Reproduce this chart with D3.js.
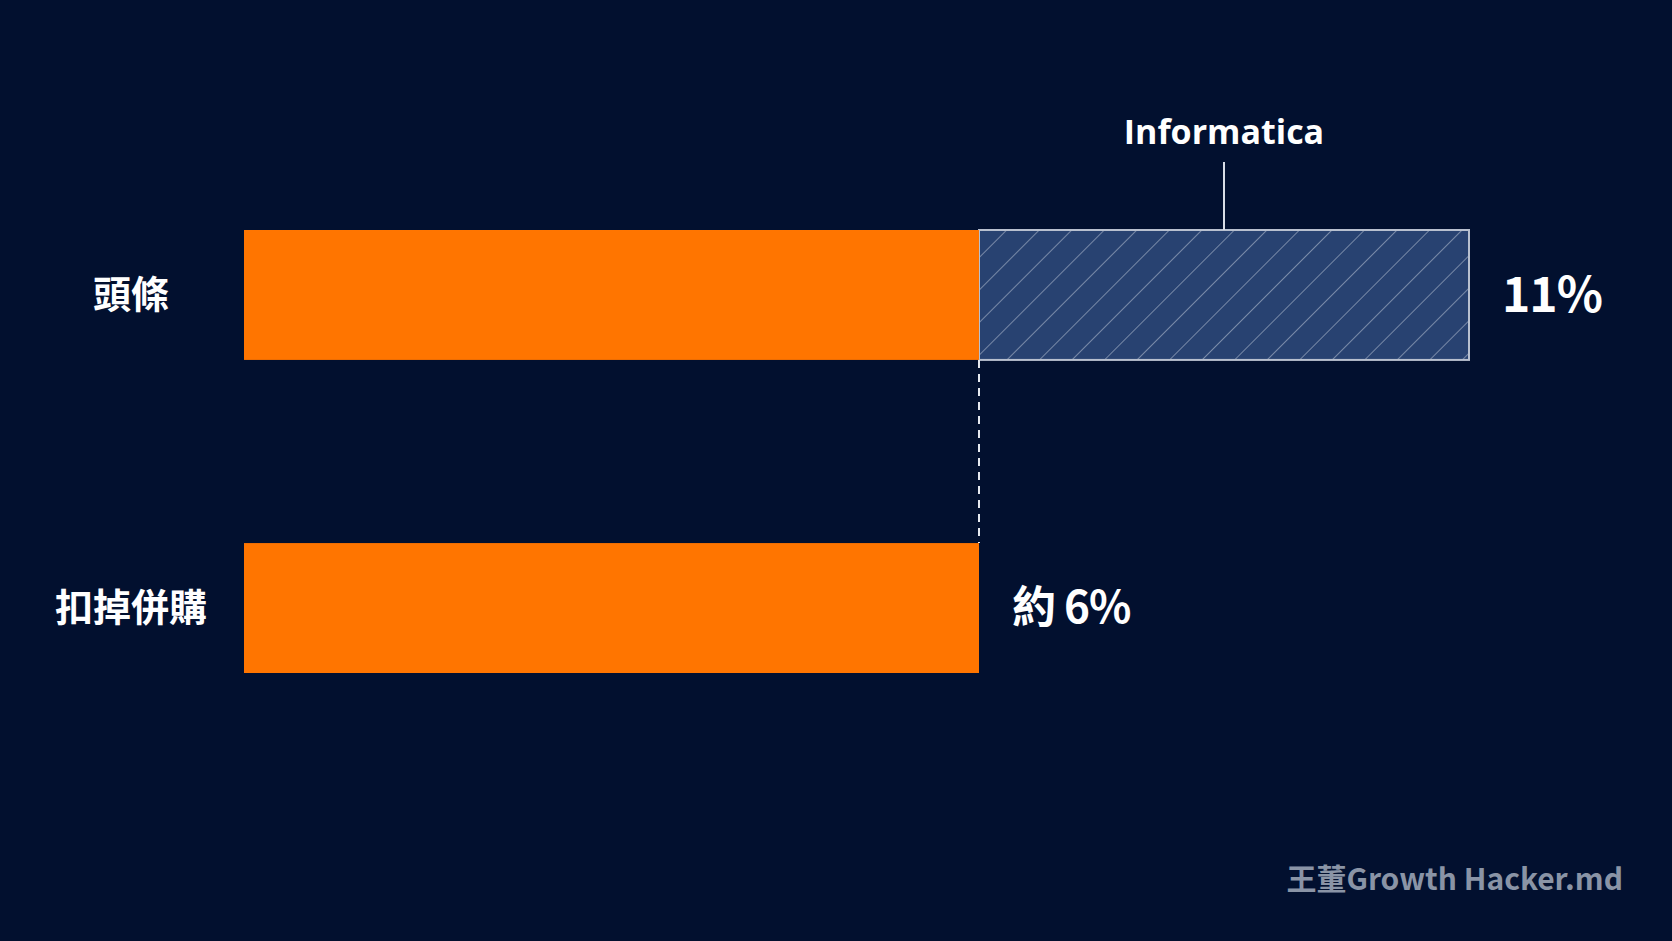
<!DOCTYPE html>
<html><head><meta charset="utf-8">
<script src="https://cdn.jsdelivr.net/npm/d3@7"></script>
<style>
body{margin:0;background:#02102f;}
text{font-family:"Noto Sans CJK TC","Noto Sans",sans-serif;font-weight:700;fill:#fff;}
</style></head><body>
<div id="chart"></div>
<script>
'use strict';

// Data
const categories = ['頭條', '扣掉併購'];
const baseValues = [6.6, 6.6];          // organic part (orange)
const totalValues = [11, 6.6];           // headline incl. acquisition
const valueLabels = ['11%', '約 6%'];
const acquisitionLabel = 'Informatica';
const watermark = '王董Growth Hacker.md';

const width = 1672, height = 941;
const svg = d3.select('#chart').append('svg')
    .attr('width', width).attr('height', height);

svg.append('rect').attr('width', width).attr('height', height).attr('fill', '#02102f');

const x = d3.scaleLinear().domain([0, 11]).range([244, 1469]);
const y = d3.scaleBand().domain(categories).range([230, 673]).paddingInner(0.585).paddingOuter(0);

// Hatch pattern
const pat = svg.append('defs').append('pattern')
    .attr('id', 'hatch').attr('patternUnits', 'userSpaceOnUse')
    .attr('width', 23).attr('height', 23)
    .attr('patternTransform', 'rotate(45)');
pat.append('rect').attr('width', 23).attr('height', 23).attr('fill', '#284271');
pat.append('line').attr('x1', 0).attr('y1', 0).attr('x2', 0).attr('y2', 23)
    .attr('stroke', '#8d9bb5').attr('stroke-width', 1.6);

// Acquisition segment
categories.forEach((c, i) => {
    if (totalValues[i] > baseValues[i]) {
        svg.append('rect')
            .attr('x', x(baseValues[i])).attr('y', y(c))
            .attr('width', x(totalValues[i]) - x(baseValues[i]))
            .attr('height', y.bandwidth())
            .attr('fill', 'url(#hatch)')
            .attr('stroke', '#b8c0cf').attr('stroke-width', 2);
        const mid = (x(baseValues[i]) + x(totalValues[i])) / 2;
        svg.append('line').attr('x1', mid).attr('x2', mid)
            .attr('y1', 162).attr('y2', y(c))
            .attr('stroke', '#d8dde6').attr('stroke-width', 2);
        svg.append('text').attr('x', mid).attr('y', 144)
            .attr('text-anchor', 'middle').style('font-size', '34px')
            .style('font-family', '"Open Sans","Noto Sans",sans-serif')
            .text(acquisitionLabel);
    }
});

// Organic bars
svg.selectAll('rect.base').data(categories).join('rect')
    .classed('base', true)
    .attr('x', x(0)).attr('y', d => y(d))
    .attr('width', (d, i) => x(baseValues[i]) - x(0))
    .attr('height', y.bandwidth())
    .attr('fill', '#ff7500');

// Dashed connector
svg.append('line')
    .attr('x1', x(baseValues[0])).attr('x2', x(baseValues[0]))
    .attr('y1', y(categories[0]) + y.bandwidth()).attr('y2', y(categories[1]))
    .attr('stroke', '#e6e9ef').attr('stroke-width', 2)
    .attr('stroke-dasharray', '8,6');

// Category labels
svg.selectAll('text.cat').data(categories).join('text')
    .classed('cat', true)
    .attr('x', 131).attr('y', d => y(d) + y.bandwidth() / 2)
    .attr('dy', '0.35em').attr('text-anchor', 'middle')
    .style('font-size', '38px')
    .text(d => d);

// Value labels
svg.selectAll('text.val').data(categories).join('text')
    .classed('val', true)
    .attr('x', (d, i) => x(totalValues[i]) + 33)
    .attr('y', d => y(d) + y.bandwidth() / 2)
    .attr('dy', '0.35em')
    .style('letter-spacing', '-1px')
    .style('font-size', (d, i) => i === 0 ? '48px' : '44px')
    .text((d, i) => valueLabels[i]);

// Watermark
svg.append('text').attr('x', 1623).attr('y', 890)
    .attr('text-anchor', 'end').style('font-size', '30px')
    .style('fill', '#8a94a6')
    .text(watermark);
</script>
</body></html>
